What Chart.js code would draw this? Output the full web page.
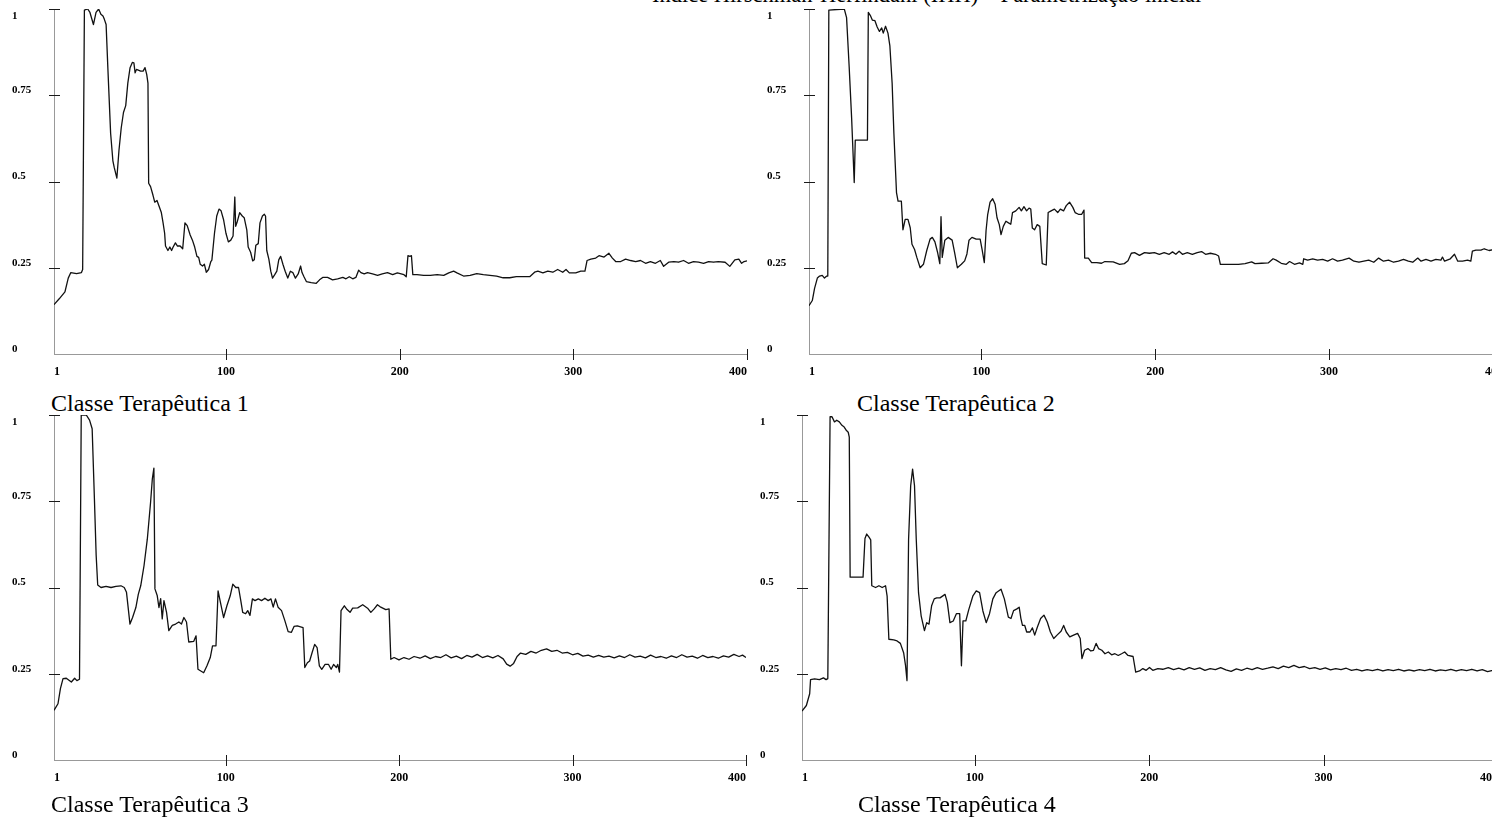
<!DOCTYPE html>
<html>
<head>
<meta charset="utf-8">
<script src="https://cdn.jsdelivr.net/npm/chart.js@4/dist/chart.umd.min.js"></script>
<style>
  html, body { margin: 0; padding: 0; background: #fff; overflow: hidden; width: 1492px; height: 822px; }
  canvas { position: absolute; }
  .caption { position: absolute; font-family: "Liberation Serif", "Times New Roman", serif; font-size: 24px; line-height: 24px; color: #000; white-space: nowrap; }
  #title { position: absolute; left: 652px; top: -16px; font-family: "Liberation Serif", serif; font-size: 22.5px; line-height: 22px; white-space: nowrap; }
</style>
</head>
<body>
<div id="title"></div>

<script>
// titulos
const TITLE = 'Índice Hirschman-Herfindahl (IHH) – Parametrização inicial';
const PANEL_TITLES = ['Classe Terapêutica 1', 'Classe Terapêutica 2', 'Classe Terapêutica 3', 'Classe Terapêutica 4'];

// eixos
const X_TICKS = [1, 100, 200, 300, 400];
const Y_TICKS = [0, 0.25, 0.5, 0.75, 1];
const Y_LABELS = ['0', '0.25', '0.5', '0.75', '1'];

// series [x, IHH]
const classe1 = [[1,.143],[4,.16],[7.3,.18],[9.2,.22],[10.7,.236],[14,.233],[16.8,.236],[17.5,.245],[18.5,.997],[20.4,1],[21.7,.99],[23.7,.955],[25.2,.99],[26.7,1],[28,.985],[29.2,.98],[30,.97],[31,.955],[32,.83],[33.6,.64],[34.9,.56],[35.7,.54],[37.2,.51],[38.4,.59],[39.7,.655],[41,.70],[42.3,.72],[43.5,.785],[44.8,.83],[46.1,.845],[47,.844],[47.7,.815],[48.5,.825],[50.9,.82],[52.3,.82],[53.4,.83],[54.4,.81],[55.1,.785],[55.5,.495],[56.6,.485],[58,.46],[59,.44],[60.3,.445],[61.4,.43],[62.8,.41],[63.8,.38],[64.7,.35],[65.2,.313],[66.6,.30],[67.7,.31],[68.7,.30],[69.6,.31],[70.9,.322],[72.1,.313],[73.6,.313],[75.1,.305],[76.4,.38],[77.7,.372],[79.4,.345],[80.7,.33],[82,.31],[83.3,.283],[84.3,.28],[85.2,.26],[86.5,.255],[87.6,.26],[88.7,.237],[90,.245],[91.3,.268],[91.9,.272],[93.4,.35],[94.7,.40],[96,.42],[97.2,.415],[98.6,.39],[100,.35],[101.4,.325],[102.8,.33],[104.1,.342],[105.1,.455],[105.6,.37],[106.6,.385],[107.9,.41],[109.4,.40],[110.5,.395],[112,.36],[112.8,.31],[114.2,.295],[115.4,.27],[116.3,.273],[117.2,.315],[118.6,.32],[119.6,.38],[121,.40],[122.1,.405],[122.8,.40],[123.5,.30],[124.7,.275],[125.8,.24],[126.8,.22],[128.1,.23],[129.3,.24],[130.4,.273],[131.5,.283],[132.8,.26],[134.1,.24],[135.6,.22],[137.1,.24],[138.5,.236],[140,.22],[141.6,.232],[143,.255],[143.8,.236],[145,.223],[146.3,.21],[149.1,.207],[152,.205],[153.9,.215],[155.7,.222],[158.5,.222],[161.4,.215],[164.3,.218],[167.3,.222],[169.1,.218],[171,.224],[173,.218],[174.8,.222],[176.4,.243],[177.7,.236],[179.6,.232],[181.5,.236],[184.4,.232],[187.3,.228],[190,.232],[193,.236],[196,.23],[198.7,.235],[202.5,.23],[203.8,.224],[204.8,.285],[205.9,.283],[206.8,.285],[207.6,.23],[210,.23],[213.8,.228],[217.7,.228],[221.6,.23],[225.4,.228],[228.3,.235],[231.1,.24],[233,.235],[236.8,.226],[240.6,.228],[244.4,.233],[248.2,.23],[252,.228],[255.8,.226],[259.6,.221],[263.4,.221],[267.2,.224],[271,.224],[274.9,.224],[277.7,.237],[279.6,.24],[282.5,.235],[285.3,.24],[288.2,.237],[291,.245],[293.9,.237],[295.8,.245],[297.7,.235],[301.4,.235],[304.3,.24],[306.7,.24],[307.9,.271],[310.1,.275],[312.9,.278],[314.8,.285],[317.7,.281],[320.5,.292],[322.5,.278],[324.4,.268],[327.3,.268],[330.1,.275],[333,.271],[335.9,.268],[338.7,.271],[341.6,.263],[344.4,.268],[347.3,.263],[350.1,.271],[352,.254],[354.9,.266],[357.9,.268],[360.6,.266],[363.5,.271],[366.3,.263],[369.2,.268],[372.1,.266],[375,.263],[377.9,.268],[380.7,.266],[383.5,.268],[387.4,.266],[390.1,.254],[393,.273],[395.3,.275],[396.9,.263],[398.3,.268],[400,.27]];

const classe2 = [[1,.14],[2.9,.155],[4.2,.19],[5.8,.22],[7.1,.226],[8.6,.228],[9.9,.22],[11.2,.226],[11.8,.226],[12.4,.997],[21.3,1],[22.6,.975],[24.1,.832],[25.5,.685],[27,.497],[27.6,.62],[34.6,.62],[35.1,.99],[36.4,.98],[37.4,.968],[38.9,.966],[40.2,.948],[41.5,.935],[42.8,.945],[43.7,.93],[45,.95],[46.4,.93],[47.5,.893],[48.8,.785],[49.8,.64],[51.3,.468],[52.2,.443],[54.1,.443],[55,.36],[56.3,.39],[57.9,.39],[59.2,.366],[60.2,.318],[61.7,.303],[63,.28],[64.9,.25],[66.8,.26],[68.7,.30],[70.6,.333],[71.9,.338],[73.4,.325],[74.9,.295],[76.2,.262],[76.9,.398],[77.6,.28],[79.1,.33],[81,.338],[83.3,.33],[84.8,.292],[86.3,.25],[88.6,.26],[90.5,.27],[91.8,.29],[93,.33],[94.7,.338],[97.1,.333],[99.4,.333],[100.5,.303],[101.8,.265],[102.8,.358],[103.7,.403],[105.1,.44],[106.6,.45],[108,.434],[109.1,.395],[110.4,.375],[111.4,.346],[112.7,.37],[114.2,.385],[115.7,.38],[117,.376],[118,.41],[119.9,.415],[121.8,.425],[123.1,.415],[124.6,.427],[126.1,.415],[127.5,.423],[128.5,.42],[129.4,.365],[130.7,.36],[132.2,.375],[133.7,.37],[135.1,.262],[137.4,.258],[138.5,.41],[140.2,.415],[142.1,.42],[144,.41],[145.5,.42],[147.4,.415],[148.9,.43],[150.8,.44],[152.7,.425],[154,.41],[155.9,.405],[157.8,.405],[159.1,.417],[159.5,.278],[161.6,.278],[163.5,.265],[166.4,.265],[169.2,.263],[171.1,.268],[175.9,.267],[179.6,.26],[182.3,.262],[184.4,.27],[186.3,.292],[188.2,.294],[191,.286],[193.9,.294],[196.7,.292],[199.6,.294],[202.4,.289],[205.2,.294],[208.1,.289],[210,.296],[211.9,.289],[213.8,.298],[215.7,.289],[218.5,.294],[221.4,.289],[224.2,.294],[226.7,.297],[229,.289],[231.8,.292],[234.7,.289],[236.5,.284],[237.5,.26],[240.3,.26],[244.1,.26],[247.9,.26],[251.7,.262],[255.5,.267],[257.4,.262],[261.2,.263],[265,.264],[267.8,.276],[269.6,.272],[272.5,.263],[275.4,.26],[277.3,.268],[280.1,.26],[283,.264],[284.9,.26],[285.4,.276],[287.7,.272],[290.6,.276],[293.4,.272],[296.3,.274],[299.2,.269],[302,.276],[304.9,.269],[307.7,.272],[311.5,.278],[314.3,.269],[317.2,.266],[320,.269],[322.8,.272],[325.7,.266],[328.5,.278],[331.3,.269],[334.2,.272],[337.1,.266],[339.9,.269],[342.8,.274],[345.6,.269],[348.1,.266],[351,.278],[352.9,.269],[355.7,.274],[358.6,.269],[361.4,.274],[364.3,.272],[365.2,.281],[366.4,.269],[369.7,.276],[372.1,.289],[374,.269],[376.8,.269],[379.6,.272],[381.5,.269],[382.4,.298],[384.4,.301],[387.3,.301],[389.2,.305],[392,.30],[395,.303],[398,.30],[400,.302]];

const classe3 = [[1,.144],[3.3,.163],[4.7,.207],[6.2,.236],[8.1,.237],[11,.226],[12.9,.237],[14.2,.23],[15.7,.234],[16.7,1],[19.6,1],[21.5,.985],[23,.96],[24.3,.757],[25.3,.594],[26.2,.507],[28.1,.50],[31,.503],[33.9,.50],[36.7,.503],[39.6,.505],[41.5,.50],[42.8,.486],[44.8,.394],[46.3,.413],[48.2,.442],[49.6,.48],[51,.505],[52.9,.563],[54.8,.64],[56.7,.748],[57.7,.815],[58.6,.846],[59.2,.496],[60.5,.477],[61.5,.442],[62.5,.468],[63.4,.409],[64.4,.462],[65.9,.428],[67.2,.375],[69.2,.39],[71.1,.394],[73,.40],[74.5,.394],[75.9,.413],[77.4,.40],[78.7,.342],[81.6,.344],[82.9,.36],[84,.263],[87.3,.253],[89.2,.273],[91.1,.297],[92.4,.331],[94.4,.331],[95.6,.49],[96.9,.458],[98.8,.413],[100.7,.447],[102.6,.476],[104.1,.51],[105.8,.50],[107.4,.50],[108.7,.462],[109.8,.428],[111.5,.424],[112.7,.433],[114,.419],[115.4,.467],[116.9,.462],[118.8,.467],[120.7,.462],[122.6,.469],[124.5,.462],[126.1,.467],[127.4,.443],[128.7,.467],[130.2,.443],[132.2,.433],[134.1,.404],[136,.372],[137.9,.37],[139.4,.387],[141.3,.389],[144.6,.384],[145.6,.268],[147.1,.282],[148.4,.287],[149.8,.311],[151.3,.335],[152.7,.326],[154,.273],[155.4,.263],[157.3,.277],[159.3,.277],[160.8,.263],[162.2,.277],[163.8,.268],[164.6,.277],[165.6,.255],[166.5,.433],[168.4,.447],[170,.436],[171.7,.428],[173.2,.44],[176.1,.441],[179,.45],[181.8,.44],[183.7,.428],[185.6,.438],[187.5,.45],[189.4,.443],[192.3,.436],[194.2,.438],[195.2,.292],[197.1,.297],[199.9,.29],[202.8,.297],[205.7,.292],[208.6,.30],[212,.295],[215,.302],[218,.294],[221,.30],[224,.297],[227,.305],[230,.296],[233,.301],[236,.294],[239,.303],[242,.298],[245,.306],[248,.297],[251,.302],[254,.296],[257,.303],[260,.293],[262,.278],[264,.272],[266,.28],[268,.30],[270,.31],[273,.306],[276,.315],[279,.31],[282,.318],[285,.322],[288,.315],[291,.318],[294,.31],[297,.312],[300,.305],[303,.309],[306,.301],[309,.304],[312,.298],[315,.303],[318,.298],[321,.301],[324,.296],[327,.302],[330,.297],[333,.305],[336,.298],[339,.301],[342,.296],[345,.304],[348,.297],[351,.3],[354,.295],[357,.302],[360,.297],[363,.305],[366,.298],[369,.301],[372,.295],[375,.303],[378,.297],[381,.3],[384,.295],[387,.302],[390,.298],[393,.306],[396,.3],[398,.304],[400,.297]];

const classe4 = [[1,.142],[3.5,.158],[5.4,.192],[5.9,.233],[8.2,.235],[11,.233],[13.3,.238],[14.8,.233],[15.8,.236],[17.1,.995],[18.2,.995],[19.6,.98],[20.9,.985],[22.4,.98],[23.9,.97],[25.2,.965],[26.5,.955],[27.5,.95],[28.1,.936],[28.6,.53],[31.8,.53],[36,.53],[37.1,.642],[38.1,.655],[39.4,.646],[40.4,.638],[41,.505],[43.2,.50],[45.1,.505],[47,.50],[48.9,.505],[49.8,.475],[50.8,.35],[53.6,.348],[55.5,.345],[57.4,.338],[59.3,.31],[60.3,.276],[61.2,.23],[62.1,.64],[63.3,.795],[64.4,.843],[65.5,.795],[66.5,.64],[67.8,.485],[69.3,.418],[71.2,.375],[72.5,.398],[73.8,.394],[75.3,.447],[76.8,.467],[78.2,.47],[80.1,.47],[83,.48],[84.3,.457],[85.8,.398],[87.7,.403],[89.5,.424],[91.4,.424],[92.4,.273],[93.3,.403],[94.9,.403],[96.6,.436],[99,.476],[100.9,.49],[102.8,.485],[104.7,.432],[106.6,.398],[108.5,.424],[110.4,.467],[112.3,.485],[115.1,.495],[117,.467],[119.3,.414],[120.8,.41],[122.3,.433],[124.2,.438],[125.5,.443],[126.5,.41],[127.4,.39],[128.7,.39],[129.8,.371],[131.7,.371],[133.1,.383],[134.4,.362],[135.9,.385],[137.8,.41],[139.7,.42],[141.6,.40],[143.4,.371],[145.3,.352],[147.2,.362],[149.5,.373],[151,.39],[152.5,.371],[154.5,.357],[156.7,.362],[159,.367],[160.5,.352],[161.5,.294],[163,.318],[164.9,.323],[166.6,.316],[168.1,.318],[169.6,.338],[171,.323],[172.9,.318],[174.7,.308],[176.6,.313],[178.5,.305],[180.4,.308],[182.3,.303],[184.2,.308],[186,.313],[187.9,.303],[190.8,.30],[192.3,.255],[194.5,.258],[196.4,.265],[198.3,.26],[200.2,.268],[202.1,.26],[205,.265],[207.8,.263],[211,.268],[214,.262],[217,.266],[220,.261],[223,.268],[226,.263],[229,.267],[232,.26],[235,.265],[238,.262],[241,.268],[244,.261],[247,.257],[250,.264],[253,.26],[256,.266],[259,.262],[262,.268],[265,.263],[268,.266],[271,.27],[274,.265],[277,.272],[280,.268],[283,.274],[286,.268],[289,.271],[292,.265],[295,.268],[298,.263],[301,.267],[304,.261],[307,.265],[310,.262],[313,.266],[316,.26],[319,.263],[322,.258],[325,.262],[328,.259],[331,.263],[334,.258],[337,.262],[340,.259],[343,.263],[346,.258],[349,.261],[352,.258],[355,.262],[358,.259],[361,.263],[364,.258],[367,.261],[370,.259],[373,.263],[376,.258],[379,.262],[382,.259],[385,.263],[388,.258],[391,.262],[394,.256],[397,.26],[400,.262]];

const SERIES = [classe1, classe2, classe3, classe4];

// posicao de cada painel na pagina (eixo y em L, x=400 em R, topo T, base B)
const PANELS = [
    { L: 54,  R: 752,  T: 9,   B: 354, capX: 51,  capY: 391 },
    { L: 809, R: 1508, T: 9,   B: 354, capX: 857, capY: 391 },
    { L: 54,  R: 751,  T: 415, B: 760, capX: 51,  capY: 792 },
    { L: 802, R: 1503, T: 415, B: 760, capX: 858, capY: 792 }
];

const FONT = '"Liberation Serif", "Times New Roman", serif';
const Y_AXIS_W = 42;   // espaco dos rotulos do eixo y
const X_AXIS_H = 34;

document.getElementById('title').textContent = TITLE;

// tracinhos que cruzam os eixos + rotulos do eixo y
const axisMarks = {
    id: 'axisMarks',
    afterDraw(chart) {
        const { ctx, chartArea: a, scales: { x, y } } = chart;
        ctx.save();
        ctx.strokeStyle = '#1a1a1a';
        ctx.lineWidth = 1;
        ctx.beginPath();
        X_TICKS.slice(1).forEach(v => {
            const px = Math.round(x.getPixelForValue(v)) + 0.5;
            ctx.moveTo(px, a.bottom - 5);
            ctx.lineTo(px, a.bottom + 6);
        });
        Y_TICKS.slice(1).forEach(v => {
            const py = Math.round(y.getPixelForValue(v)) + 0.5;
            ctx.moveTo(a.left - 5, py);
            ctx.lineTo(a.left + 6, py);
        });
        ctx.stroke();

        ctx.fillStyle = '#000';
        ctx.font = 'bold 11px ' + FONT;
        ctx.textAlign = 'left';
        ctx.textBaseline = 'middle';
        Y_TICKS.forEach((v, i) => {
            const py = Math.max(y.getPixelForValue(v) - 5, a.top + 7);
            ctx.fillText(Y_LABELS[i], a.left - Y_AXIS_W, py);
        });
        ctx.restore();
    }
};

PANELS.forEach((p, i) => {
    const canvas = document.createElement('canvas');
    const left = p.L - 12 - Y_AXIS_W;
    const top = p.T - 9;
    const w = p.R - left + 6;
    const h = p.B - top + X_AXIS_H;
    canvas.width = w;
    canvas.height = h;
    canvas.style.left = left + 'px';
    canvas.style.top = top + 'px';
    canvas.style.width = w + 'px';
    canvas.style.height = h + 'px';
    document.body.appendChild(canvas);

    const cap = document.createElement('div');
    cap.className = 'caption';
    cap.style.left = p.capX + 'px';
    cap.style.top = p.capY + 'px';
    cap.textContent = PANEL_TITLES[i];
    document.body.appendChild(cap);

    new Chart(canvas.getContext('2d'), {
        type: 'line',
        data: {
            datasets: [{
                label: PANEL_TITLES[i],
                data: SERIES[i].map(([x, y]) => ({ x, y })),
                borderColor: '#111',
                borderWidth: 1.3,
                borderJoinStyle: 'round',
                pointRadius: 0,
                tension: 0,
                fill: false
            }]
        },
        options: {
            responsive: false,
            animation: false,
            devicePixelRatio: 1,
            layout: { padding: { left: 12, top: 9, right: 6, bottom: 0 } },
            plugins: {
                legend: { display: false },
                tooltip: { enabled: false },
                title: { display: false }
            },
            scales: {
                x: {
                    type: 'linear',
                    min: 1,
                    max: 400,
                    afterBuildTicks: s => { s.ticks = X_TICKS.map(v => ({ value: v })); },
                    afterFit: s => { s.height = X_AXIS_H; },
                    grid: { display: false, drawTicks: false },
                    border: { display: true, color: '#999', width: 1 },
                    ticks: {
                        align: 'inner',
                        autoSkip: false,
                        maxRotation: 0,
                        padding: 11,
                        color: '#000',
                        font: { family: FONT, size: 12, weight: 'bold' },
                        callback: v => String(v)
                    }
                },
                y: {
                    min: 0,
                    max: 1,
                    afterBuildTicks: s => { s.ticks = Y_TICKS.map(v => ({ value: v })); },
                    afterFit: s => { s.width = Y_AXIS_W; },
                    grid: { display: false, drawTicks: false },
                    border: { display: true, color: '#999', width: 1 },
                    ticks: { display: false }
                }
            }
        },
        plugins: [axisMarks]
    });
});
</script>
</body>
</html>
